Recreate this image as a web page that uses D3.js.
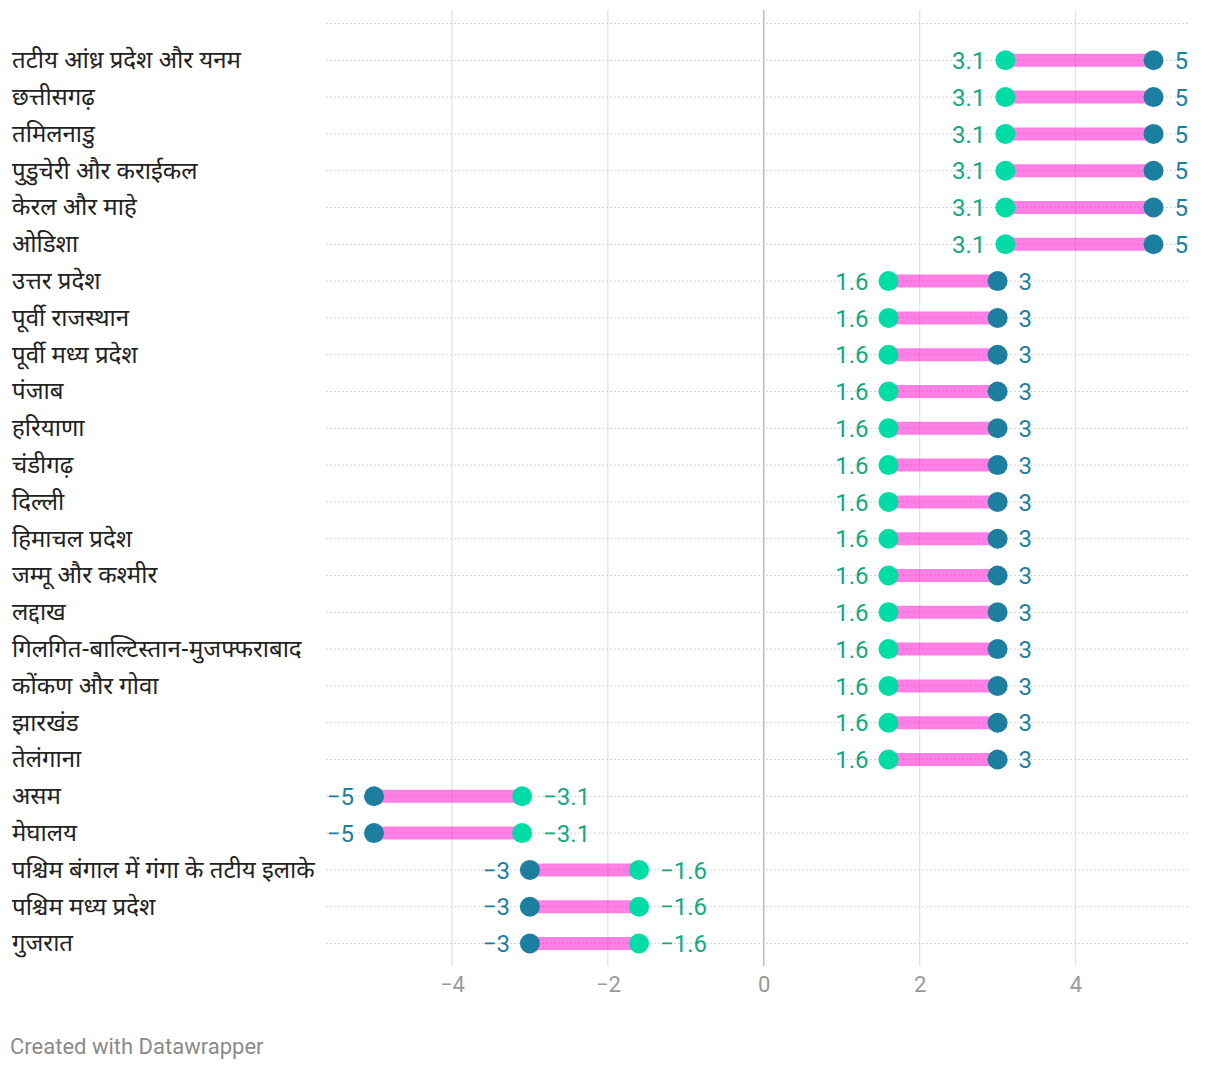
<!DOCTYPE html>
<html><head><meta charset="utf-8">
<script src="https://cdn.jsdelivr.net/npm/d3@7"></script>
<style>
body{margin:0;background:#fff;}
svg text{font-family:Roboto,"Noto Sans",sans-serif;}
.cat{font-family:"Noto Sans Devanagari","Noto Sans",Lato,sans-serif;}
</style></head>
<body>
<svg id="c" width="1220" height="1070"></svg>
<script>
const categories = ["तटीय आंध्र प्रदेश और यनम","छत्तीसगढ़","तमिलनाडु","पुडुचेरी और कराईकल","केरल और माहे","ओडिशा","उत्तर प्रदेश","पूर्वी राजस्थान","पूर्वी मध्य प्रदेश","पंजाब","हरियाणा","चंडीगढ़","दिल्ली","हिमाचल प्रदेश","जम्मू और कश्मीर","लद्दाख","गिलगित-बाल्टिस्तान-मुजफ्फराबाद","कोंकण और गोवा","झारखंड","तेलंगाना","असम","मेघालय","पश्चिम बंगाल में गंगा के तटीय इलाके","पश्चिम मध्य प्रदेश","गुजरात"];
const greenValues = [3.1,3.1,3.1,3.1,3.1,3.1,1.6,1.6,1.6,1.6,1.6,1.6,1.6,1.6,1.6,1.6,1.6,1.6,1.6,1.6,-3.1,-3.1,-1.6,-1.6,-1.6];
const tealValues = [5,5,5,5,5,5,3,3,3,3,3,3,3,3,3,3,3,3,3,3,-5,-5,-3,-3,-3];
const xTicks = [-4,-2,0,2,4];
const footer = "Created with Datawrapper";

const svg = d3.select("#c");
const x = d3.scaleLinear().domain([-5,5]).range([374,1153.5]);
const y = d3.scalePoint().domain(d3.range(-1,categories.length)).range([23.5,943.5]);
const fmt = v => (v<0?"\u2212":"") + Math.abs(v);
const gL = 326, gR = 1188;
const GREEN="#00dca6", TEAL="#1d7fa0", GREENTXT="#11a983";

// vertical gridlines
svg.append("g").selectAll("line").data(xTicks).join("line")
  .attr("x1",d=>x(d)).attr("x2",d=>x(d)).attr("y1",10).attr("y2",966)
  .attr("stroke",d=>d===0?"#bdbdbd":"#e3e3e3").attr("stroke-width",d=>d===0?1.5:1.3);

// dotted row lines
svg.append("g").selectAll("line").data(d3.range(-1,categories.length)).join("line")
  .attr("x1",gL).attr("x2",gR).attr("y1",d=>y(d)).attr("y2",d=>y(d))
  .attr("stroke","#d4d4d4").attr("stroke-width",1).attr("stroke-dasharray","2,2");

// axis tick labels
const ax = d3.axisBottom(x).tickValues(xTicks).tickFormat(fmt).tickSize(0);
const axG = svg.append("g").attr("transform","translate(0,973)").call(ax);
axG.select(".domain").remove();
axG.selectAll("text").attr("fill","#9a9a9a").style("font-size","22px").style("font-family","Roboto,sans-serif");

const rows = categories.map((c,i)=>({c,i,g:greenValues[i],t:tealValues[i]}));

// category labels
svg.append("g").selectAll("text").data(rows).join("text").attr("class","cat")
  .attr("x",12).attr("y",d=>y(d.i)).attr("dy","0.33em")
  .attr("fill","#222").style("font-size","24px").text(d=>d.c);

// bars
svg.append("g").selectAll("line").data(rows).join("line")
  .attr("x1",d=>x(d.g)).attr("x2",d=>x(d.t)).attr("y1",d=>y(d.i)).attr("y2",d=>y(d.i))
  .attr("stroke","#ff00cc").attr("stroke-opacity",0.5).attr("stroke-width",13);

// dots
svg.append("g").selectAll("circle").data(rows).join("circle")
  .attr("cx",d=>x(d.g)).attr("cy",d=>y(d.i)).attr("r",10).attr("fill",GREEN);
svg.append("g").selectAll("circle").data(rows).join("circle")
  .attr("cx",d=>x(d.t)).attr("cy",d=>y(d.i)).attr("r",10).attr("fill",TEAL);

// value labels
const lab = (key,color) => svg.append("g").selectAll("text").data(rows).join("text")
  .attr("x",d=>{const other = key==="g"?d.t:d.g; const right = d[key]>other; return x(d[key]) + (right?21:-20);})
  .attr("text-anchor",d=>{const other = key==="g"?d.t:d.g; return d[key]>other?"start":"end";})
  .attr("y",d=>y(d.i)).attr("dy","0.36em").attr("fill",color).style("font-size","24px")
  .text(d=>fmt(d[key]));
lab("g",GREENTXT); lab("t",TEAL);

svg.append("text").attr("x",10).attr("y",1054).attr("fill","#8a8a8a").style("font-size","22px").text(footer);
</script>
</body></html>
